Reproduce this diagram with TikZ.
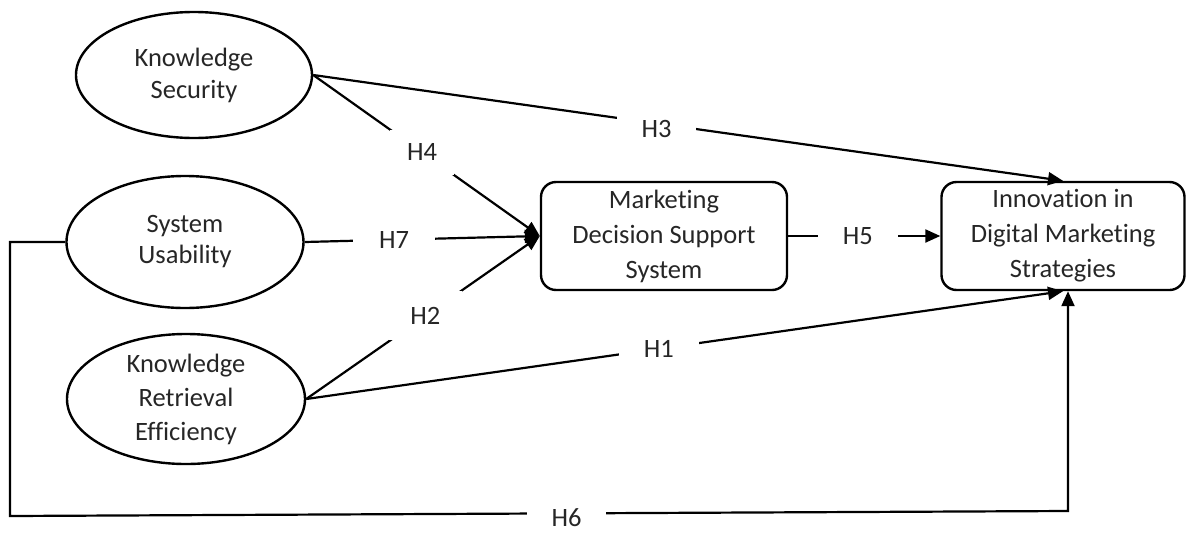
\documentclass[tikz,border=0pt]{standalone}
\usepackage{fontspec}
\setmainfont{Carlito}[Ligatures=NoCommon]
\usetikzlibrary{arrows.meta,shapes.geometric,calc}
\begin{document}
\begin{tikzpicture}[x=1pt,y=-1pt,
  every node/.style={font=\fontsize{26.5}{35}\selectfont, text=black!85},
  ell/.style={draw=black, line width=2.4pt, ellipse, inner sep=0pt},
  box/.style={draw=black, line width=2.4pt, rounded corners=15pt, inner sep=0pt, align=center},
  conn/.style={line width=2.2pt, draw=black},
  arr/.style={conn, -{Triangle[length=15pt,width=13pt]}},
  lbl/.style={fill=white, inner sep=0pt}]
\useasboundingbox (0,0) rectangle (1188,536);

\node[ell, minimum width=236pt, minimum height=126pt,
  label={[align=center, font=\fontsize{26.5}{32}\selectfont]center:Knowledge\\Security}] (ks) at (194,75) {};
\node[ell, minimum width=237pt, minimum height=132pt,
  label={[align=center, font=\fontsize{26.5}{31}\selectfont]center:System\\Usability}] (su) at (185,242) {};
\node[ell, minimum width=238pt, minimum height=130pt,
  label={[align=center, font=\fontsize{26.5}{34}\selectfont]center:Knowledge\\Retrieval\\Efficiency}] (kre) at (186,399) {};

\node[box, minimum width=246pt, minimum height=108pt] (mdss) at (664,236) {Marketing\\Decision Support\\System};
\node[box, minimum width=243pt, minimum height=108pt] (inn) at (1063,236) {Innovation in\\Digital Marketing\\Strategies};

\draw[arr] (ks.east) -- node[lbl, pos=0.48, minimum width=64pt, minimum height=45pt] {H4} (mdss.west);
\draw[arr] (su.east) -- node[lbl, pos=0.38, minimum width=82pt, minimum height=30pt] {H7} (mdss.west);
\draw[arr] (kre.east) -- node[lbl, pos=0.51, minimum width=73pt, minimum height=49pt] {H2} (mdss.west);
\draw[arr] (ks.east) -- node[lbl, pos=0.458, minimum width=79pt, minimum height=34pt, yshift=-6pt] {H3} (inn.north);
\draw[arr] (kre.east) -- node[lbl, pos=0.466, minimum width=80pt, minimum height=30pt] {H1} (inn.south);
\draw[arr] (mdss.east) -- node[lbl, pos=0.458, minimum width=80pt, minimum height=30pt] {H5} (inn.west);
\draw[arr] (su.west) -- (10,242) -- (10,516)
  -- node[lbl, pos=0.526, minimum width=79pt, minimum height=34pt, yshift=-4pt] {H6} (1068,511)
  -- ($(inn.south)+(5,0)$);
\end{tikzpicture}
\end{document}
